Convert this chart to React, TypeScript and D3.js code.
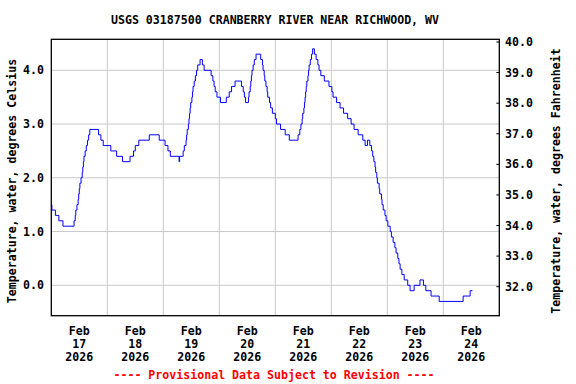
import React from "react";
import * as d3 from "d3";

const title = "USGS 03187500 CRANBERRY RIVER NEAR RICHWOOD, WV";
const leftLabel = "Temperature, water, degrees Celsius";
const rightLabel = "Temperature, water, degrees Fahrenheit";
const footer = "---- Provisional Data Subject to Revision ----";

// hours since Feb 17 2026 00:00
const hours = [
  0, 0.25, 1.75, 3.25, 5.0, 9.75, 10.25, 10.5, 11.0, 11.5, 11.75, 12.0, 12.25, 12.75, 13.25, 13.5, 13.75, 14.0, 14.5, 15.0,
  15.5, 16.0, 16.5, 20.25, 21.25, 22.25, 25.5, 28.0, 30.5, 33.75, 35.25, 36.0, 37.5, 42.0, 46.25, 48.75, 50.0, 51.0, 54.75, 55.0,
  56.5, 57.0, 57.75, 58.0, 58.25, 58.75, 59.0, 59.25, 59.5, 59.75, 60.25, 60.5, 60.75, 61.25, 61.75, 62.25, 62.75, 63.75, 64.75, 65.5,
  68.5, 69.25, 69.75, 70.25, 71.0, 72.5, 75.0, 76.25, 77.25, 78.75, 81.5, 82.25, 82.75, 83.25, 84.5, 84.75, 85.25, 85.5, 85.75, 86.0,
  86.5, 87.0, 87.75, 89.75, 90.5, 90.75, 91.25, 91.5, 92.0, 92.5, 92.75, 93.5, 94.0, 94.75, 96.0, 96.5, 98.25, 100.25, 102.0, 105.75,
  106.5, 107.0, 107.5, 107.75, 108.25, 108.5, 108.75, 109.0, 109.25, 109.5, 110.0, 110.25, 110.5, 111.0, 111.5, 112.0, 112.75, 113.5, 114.25, 114.75,
  115.5, 117.0, 119.0, 120.25, 120.75, 122.25, 123.75, 125.25, 127.0, 128.5, 129.75, 131.5, 133.5, 134.5, 135.5, 136.5, 137.25, 137.75, 138.25, 138.75,
  139.0, 139.5, 139.75, 140.5, 140.75, 141.5, 141.75, 142.25, 143.0, 143.5, 144.25, 145.25, 145.75, 146.5, 147.25, 147.75, 148.5, 149.0, 149.5, 150.25,
  151.25, 152.75, 153.75, 155.5, 158.0, 159.5, 160.5, 162.75, 166.25, 176.5, 179.5, 180.5,
];
const tempC = [
  1.5, 1.4, 1.3, 1.2, 1.1, 1.2, 1.3, 1.4, 1.5, 1.6, 1.7, 1.8, 1.9, 2.0, 2.1, 2.2, 2.3, 2.4, 2.5, 2.6,
  2.7, 2.8, 2.9, 2.8, 2.7, 2.6, 2.5, 2.4, 2.3, 2.4, 2.5, 2.6, 2.7, 2.8, 2.7, 2.6, 2.5, 2.4, 2.3, 2.4,
  2.5, 2.6, 2.7, 2.8, 2.9, 3.0, 3.1, 3.2, 3.3, 3.4, 3.5, 3.6, 3.7, 3.8, 3.9, 4.0, 4.1, 4.2, 4.1, 4.0,
  3.9, 3.8, 3.7, 3.6, 3.5, 3.4, 3.5, 3.6, 3.7, 3.8, 3.7, 3.6, 3.5, 3.4, 3.5, 3.6, 3.7, 3.8, 3.9, 4.0,
  4.1, 4.2, 4.3, 4.2, 4.1, 4.0, 3.9, 3.8, 3.7, 3.6, 3.5, 3.4, 3.3, 3.2, 3.1, 3.0, 2.9, 2.8, 2.7, 2.8,
  2.9, 3.0, 3.1, 3.2, 3.3, 3.4, 3.5, 3.6, 3.7, 3.8, 3.9, 4.0, 4.1, 4.2, 4.3, 4.4, 4.3, 4.2, 4.1, 4.0,
  3.9, 3.8, 3.7, 3.6, 3.5, 3.4, 3.3, 3.2, 3.1, 3.0, 2.9, 2.8, 2.7, 2.6, 2.7, 2.6, 2.5, 2.4, 2.3, 2.2,
  2.1, 2.0, 1.9, 1.8, 1.7, 1.6, 1.5, 1.4, 1.3, 1.2, 1.1, 1.0, 0.9, 0.8, 0.7, 0.6, 0.5, 0.4, 0.3, 0.2,
  0.1, 0.0, -0.1, 0.0, 0.1, 0.0, -0.1, -0.2, -0.3, -0.2, -0.1, -0.1,
];

const dayTicks = ["17", "18", "19", "20", "21", "22", "23", "24"];
const celsiusTicks = [0, 1, 2, 3, 4];
const fahrenheitTicks = [32, 33, 34, 35, 36, 37, 38, 39, 40];

const W = 576;
const H = 384;
const L = 51.3, R = 499.3, T = 39.3, B = 315.7;
const FONT = "'DejaVu Sans Mono', 'Liberation Mono', monospace";

export default function App() {
  const x = d3.scaleLinear().domain([0, 192]).range([L, R]);
  const y = d3.scaleLinear().domain([0, 4]).range([285.3, 70.3]);
  const yF = d3.scaleLinear().domain([32, 40]).range([286.7, 42]);

  const data = hours.map((h, i) => [h, tempC[i]] as [number, number]);
  const line = d3
    .line<[number, number]>()
    .x((d) => x(d[0]))
    .y((d) => y(d[1]))
    .curve(d3.curveStepAfter);

  const gridDays = d3.range(1, dayTicks.length);

  return (
    <svg
      width={W}
      height={H}
      style={{ position: "fixed", left: 0, top: 0, background: "#fff" }}
      fontFamily={FONT}
    >
      <rect x={0} y={0} width={W} height={H} fill="#fff" />
      {gridDays.map((d) => (
        <line key={"gx" + d} x1={x(d * 24)} x2={x(d * 24)} y1={T} y2={B} stroke="#c8c8c8" strokeWidth={1} />
      ))}
      {celsiusTicks.map((c) => (
        <line key={"gy" + c} x1={L} x2={R} y1={y(c)} y2={y(c)} stroke="#c8c8c8" strokeWidth={1} />
      ))}
      {fahrenheitTicks.map((f) => (
        <line key={"tf" + f} x1={R - 3} x2={R} y1={yF(f)} y2={yF(f)} stroke="#000" strokeWidth={1} />
      ))}
      <path d={line(data) || ""} fill="none" stroke="#0000ff" strokeWidth={1} />
      <rect x={L} y={T} width={R - L} height={B - T} fill="none" stroke="#000" strokeWidth={1.3} />
      <text x={275} y={24} textAnchor="middle" fontSize={11.6} fontWeight="bold" fill="#000">
        {title}
      </text>
      {celsiusTicks.map((c) => (
        <text key={"lc" + c} x={44} y={y(c) + 4} textAnchor="end" fontSize={11.6} fontWeight="bold">
          {c.toFixed(1)}
        </text>
      ))}
      {fahrenheitTicks.map((f) => (
        <text key={"lf" + f} x={505} y={yF(f) + 4} textAnchor="start" fontSize={11.6} fontWeight="bold">
          {f.toFixed(1)}
        </text>
      ))}
      {dayTicks.map((d, i) => {
        const cx = x(i * 24 + 12);
        return (
          <text key={"xd" + d} textAnchor="middle" fontSize={11.6} fontWeight="bold">
            <tspan x={cx} y={335}>Feb</tspan>
            <tspan x={cx} y={348}>{d}</tspan>
            <tspan x={cx} y={361}>2026</tspan>
          </text>
        );
      })}
      <text transform={`translate(16,181) rotate(-90)`} textAnchor="middle" fontSize={11.6} fontWeight="bold">
        {leftLabel}
      </text>
      <text transform={`translate(560,181) rotate(-90)`} textAnchor="middle" fontSize={11.6} fontWeight="bold">
        {rightLabel}
      </text>
      <text x={274} y={379} textAnchor="middle" fontSize={11.6} fontWeight="bold" fill="#ff0000">
        {footer}
      </text>
    </svg>
  );
}
